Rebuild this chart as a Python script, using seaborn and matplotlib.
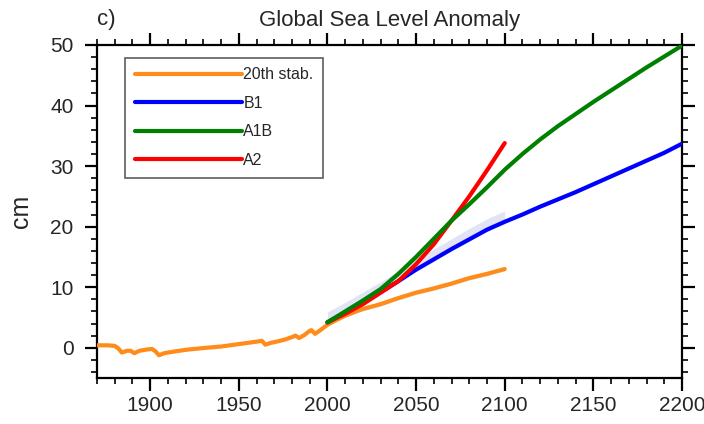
import numpy as np
import pandas as pd
import matplotlib
matplotlib.use("Agg")
import matplotlib.pyplot as plt
import seaborn as sns
from matplotlib.ticker import MultipleLocator

# ---- data ----
stab_years = [1870, 1876, 1880, 1882, 1884, 1887, 1889, 1891, 1894, 1898, 1901, 1903,
              1905, 1908, 1912, 1920, 1930, 1940, 1950, 1960, 1963, 1965, 1968, 1972,
              1976, 1980, 1982, 1984, 1987, 1990, 1991, 1993, 1996, 2000,
              2005, 2010, 2017, 2020, 2030, 2040, 2050, 2060, 2070, 2080, 2090, 2100]
stab_vals = [0.4, 0.4, 0.3, -0.1, -0.8, -0.5, -0.5, -0.9, -0.5, -0.3, -0.2, -0.6,
             -1.25, -0.9, -0.7, -0.35, -0.05, 0.2, 0.6, 1.0, 1.15, 0.5, 0.8, 1.05,
             1.35, 1.75, 2.0, 1.6, 2.1, 2.8, 2.9, 2.3, 2.9, 3.8,
             4.6, 5.3, 6.1, 6.4, 7.2, 8.2, 9.1, 9.8, 10.6, 11.5, 12.2, 13.0]

scen_years = [2000, 2010, 2020, 2030, 2040, 2050, 2060, 2070, 2080, 2090, 2100,
              2110, 2120, 2130, 2140, 2150, 2160, 2170, 2180, 2190, 2200]
b1_vals = [4.2, 5.8, 7.5, 9.2, 11.0, 12.9, 14.6, 16.3, 17.9, 19.5, 20.8,
           22.0, 23.3, 24.5, 25.7, 27.0, 28.3, 29.6, 30.9, 32.2, 33.7]
a1b_vals = [4.2, 6.0, 7.8, 9.7, 12.2, 15.0, 18.0, 21.0, 23.7, 26.5, 29.4,
            32.0, 34.4, 36.6, 38.6, 40.6, 42.5, 44.4, 46.3, 48.1, 49.9]
a2_years = [2000, 2010, 2020, 2030, 2040, 2050, 2060, 2070, 2080, 2090, 2100]
a2_vals = [4.2, 5.6, 7.2, 9.1, 11.0, 13.8, 17.1, 21.0, 25.0, 29.3, 33.8]

# ensemble spread (2000-2100)
band_years = [2000, 2010, 2020, 2030, 2040, 2050, 2060, 2070, 2080, 2090, 2100]
stab_band = [3.8, 5.3, 6.4, 7.2, 8.2, 9.1, 9.8, 10.6, 11.5, 12.2, 13.0]
stab_lo_off = [0.3] * 11
stab_hi_off = [0.3] * 11
b1_hi_off = [1.7, 1.7, 1.7, 1.7, 1.7, 1.7, 1.7, 1.7, 1.8, 1.8, 1.8]
b1_lo_off = [0.3] * 11
a1b_off = [0.4] * 11
a2_off = [0.3] * 11

labels = ["20th stab.", "B1", "A1B", "A2"]
colors = ["#ff8c1a", "#0000ff", "#008000", "#ff0000"]

# ---- style ----
sns.set_style("ticks")
plt.rcParams["font.family"] = ["Liberation Sans", "DejaVu Sans"]

fig = plt.figure(figsize=(7.04, 4.24), dpi=100)
ax = fig.add_axes([97 / 704, 46 / 424, 585 / 704, 333 / 424])

by = np.array(band_years)
ax.fill_between(by, np.array(stab_band) - np.array(stab_lo_off),
                np.array(stab_band) + np.array(stab_hi_off),
                color="#d8cfc0", alpha=0.6, lw=0, zorder=1)
b1_band = np.array(b1_vals[:11])
ax.fill_between(by, b1_band - np.array(b1_lo_off), b1_band + np.array(b1_hi_off),
                color="#dcdcf4", alpha=0.8, lw=0, zorder=1)
a1b_band = np.array(a1b_vals[:11])
ax.fill_between(by, a1b_band - np.array(a1b_off), a1b_band + np.array(a1b_off),
                color="#c8eac8", alpha=0.6, lw=0, zorder=1)
a2_band = np.array(a2_vals)
ax.fill_between(by, a2_band - np.array(a2_off), a2_band + np.array(a2_off),
                color="#f6d0d0", alpha=0.6, lw=0, zorder=1)

df_stab = pd.DataFrame({"year": stab_years, "cm": stab_vals})
df_b1 = pd.DataFrame({"year": scen_years, "cm": b1_vals})
df_a1b = pd.DataFrame({"year": scen_years, "cm": a1b_vals})
df_a2 = pd.DataFrame({"year": a2_years, "cm": a2_vals})

lw = 3.0
sns.lineplot(data=df_stab, x="year", y="cm", color=colors[0], lw=lw, ax=ax, zorder=3)
sns.lineplot(data=df_b1, x="year", y="cm", color=colors[1], lw=lw, ax=ax, zorder=4)
sns.lineplot(data=df_a2, x="year", y="cm", color=colors[3], lw=lw, ax=ax, zorder=5)
sns.lineplot(data=df_a1b, x="year", y="cm", color=colors[2], lw=lw, ax=ax, zorder=6)

handles = [plt.Line2D([], [], color=c, lw=lw) for c in colors]
leg = ax.legend(handles, labels, loc="upper left", bbox_to_anchor=(0.048, 0.962),
                borderaxespad=0, fontsize=11.5, handlelength=6.7, handletextpad=0.1,
                labelspacing=0.85, frameon=True, fancybox=False, borderpad=0.6)
leg.get_frame().set_edgecolor("#333333")
leg.get_frame().set_linewidth(1.2)

ax.set_xlim(1870, 2200)
ax.set_ylim(-5, 50)
ax.xaxis.set_major_locator(MultipleLocator(50))
ax.xaxis.set_minor_locator(MultipleLocator(10))
ax.yaxis.set_major_locator(MultipleLocator(10))
ax.yaxis.set_minor_locator(MultipleLocator(2))

for s in ax.spines.values():
    s.set_visible(True)
    s.set_linewidth(1.6)
    s.set_color("black")

ax.tick_params(which="both", direction="out", top=True, right=True,
               labeltop=False, labelright=False, color="black")
ax.tick_params(which="major", length=9, width=1.6, labelsize=15)
ax.tick_params(which="minor", length=4.5, width=1.2)
ax.tick_params(axis="x", which="major", pad=4)
ax.tick_params(axis="y", which="major", pad=8)

ax.set_xlabel("")
ax.set_ylabel("cm", fontsize=18, labelpad=12)
ax.set_title("Global Sea Level Anomaly", fontsize=16, pad=14)
ax.text(0.0, 1.045, "c)", transform=ax.transAxes, fontsize=16,
        ha="left", va="bottom")

fig.savefig("out.png", dpi=100)
